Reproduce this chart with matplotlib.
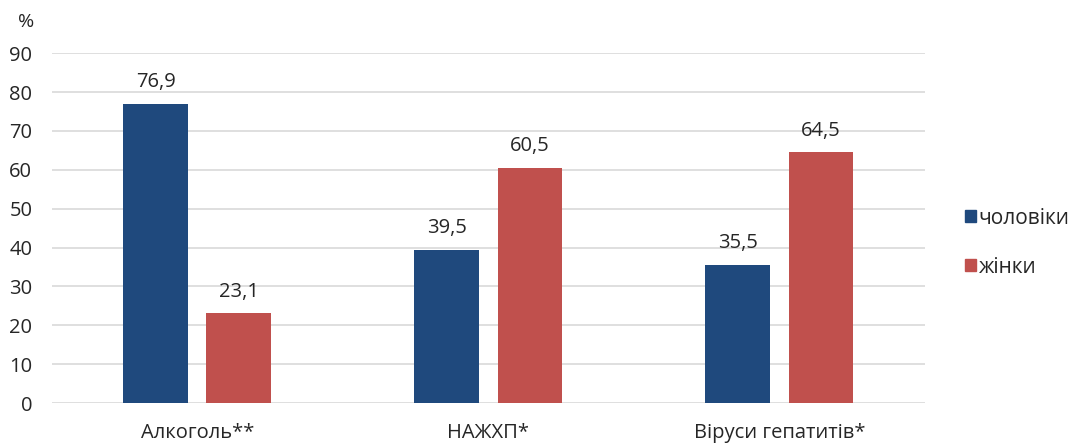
import numpy as np
import matplotlib.pyplot as plt
from matplotlib.patches import Patch

plt.rcParams['font.family'] = ['Open Sans', 'DejaVu Sans']

# Дані
categories = ['Алкоголь**', 'НАЖХП*', 'Віруси гепатитів*']
men = [76.9, 39.5, 35.5]
women = [23.1, 60.5, 64.5]
men_labels = ['76,9', '39,5', '35,5']
women_labels = ['23,1', '60,5', '64,5']

blue = '#1F497D'
red = '#C0504D'
txt = '#262626'

fig = plt.figure(figsize=(10.78, 4.43), dpi=100)
ax = fig.add_axes([0.048, 0.090, 0.810, 0.790])

x = np.arange(len(categories))
w = 0.223
off = 0.143
b1 = ax.bar(x - off, men, w, color=blue, zorder=3)
b2 = ax.bar(x + off, women, w, color=red, zorder=3)

for rect, lab in zip(b1, men_labels):
    ax.text(rect.get_x() + rect.get_width() / 2, rect.get_height() + 3, lab,
            ha='center', va='bottom', fontsize=14.5, color=txt)
for rect, lab in zip(b2, women_labels):
    ax.text(rect.get_x() + rect.get_width() / 2, rect.get_height() + 3, lab,
            ha='center', va='bottom', fontsize=14.5, color=txt)

ax.set_xlim(-0.5, 2.5)
ax.set_ylim(0, 90)
ax.set_yticks(range(0, 91, 10))
ax.set_xticks(x)
ax.set_xticklabels(categories)
ax.tick_params(axis='both', length=0, labelsize=14.5, colors=txt)
ax.tick_params(axis='y', pad=14)
ax.tick_params(axis='x', pad=14)
ax.yaxis.grid(True, color='#D9D9D9', linewidth=1.2, zorder=0)
for s in ax.spines.values():
    s.set_visible(False)

fig.text(0.024, 0.95, '%', fontsize=14, color=txt, ha='center', va='center')

handles = [Patch(color=blue), Patch(color=red)]
fig.legend(handles, ['чоловіки', 'жінки'], loc='center left',
           bbox_to_anchor=(0.878, 0.452), frameon=False, fontsize=15,
           handlelength=0.5, handleheight=0.5, handletextpad=0.15,
           labelspacing=1.35, labelcolor=txt)

fig.savefig('out.png', dpi=100)
